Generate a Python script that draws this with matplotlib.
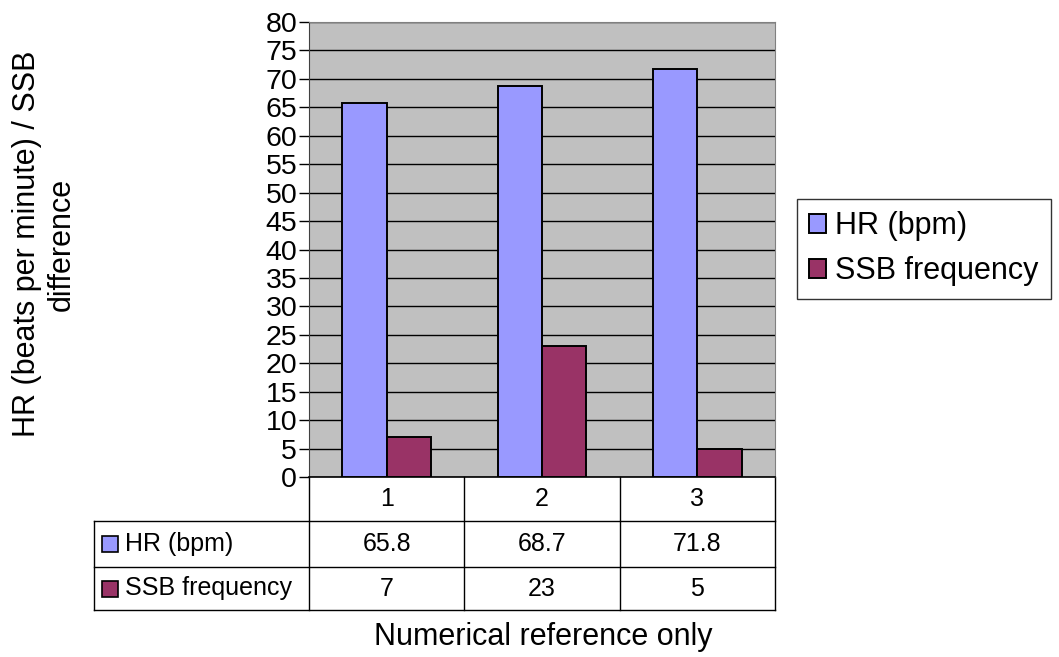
import matplotlib
matplotlib.use('Agg')
import matplotlib.pyplot as plt
import matplotlib.transforms as mtransforms
from matplotlib.patches import Rectangle
import numpy as np

categories = ['1', '2', '3']
series_names = ['HR (bpm)', 'SSB frequency']
hr_bpm = [65.8, 68.7, 71.8]
ssb_freq = [7, 23, 5]
y_ticks = list(range(0, 81, 5))
colors = ['#9999FF', '#993366']

plt.rcParams['font.family'] = ['Liberation Sans', 'DejaVu Sans']

W, H = 1059, 657
fig = plt.figure(figsize=(W / 100, H / 100), dpi=100)

def fx(px):
    return px / W

def fy(py):
    return 1 - py / H

# plot area in pixels
left, right, top, bottom = 309, 775, 22, 477
ax = fig.add_axes([fx(left), fy(bottom), fx(right - left), (bottom - top) / H])
ax.set_facecolor('#C0C0C0')

x = np.arange(len(categories))
w = 1 / 3.5
series = [hr_bpm, ssb_freq]
bars = []
for i, vals in enumerate(series):
    b = ax.bar(x + (i - 0.5) * w, vals, w, color=colors[i], edgecolor='black',
               linewidth=1.4, zorder=3, label=series_names[i])
    bars.append(b)

ax.set_xlim(-0.5, len(categories) - 0.5)
ax.set_ylim(0, 80)
ax.set_yticks(y_ticks)
ax.yaxis.grid(True, color='black', linewidth=1)
ax.set_axisbelow(True)
ax.set_xticks([])
ax.tick_params(axis='y', labelsize=20.5, length=7, width=1, pad=1.5)
for s in ['top', 'right']:
    ax.spines[s].set_color('#808080')
ax.spines['left'].set_color('#404040')
ax.spines['bottom'].set_color('black')
ax.spines['bottom'].set_linewidth(1.2)

# data table under the plot
trans = mtransforms.blended_transform_factory(ax.transData, fig.transFigure)
row_y = [477, 521, 567, 610]
tleft = 94
edges = np.arange(len(categories) + 1) - 0.5
for e in edges:
    ax.plot([e, e], [fy(row_y[0]), fy(row_y[-1])], color='black', lw=1,
            transform=trans, clip_on=False)
for yy in row_y[1:]:
    fig.add_artist(plt.Line2D([fx(tleft), fx(right)], [fy(yy), fy(yy)],
                              color='black', lw=1))
fig.add_artist(plt.Line2D([fx(tleft), fx(tleft)], [fy(row_y[1]), fy(row_y[-1])],
                          color='black', lw=1))

for i, c in enumerate(categories):
    ax.text(i, fy((row_y[0] + row_y[1]) / 2), c, transform=trans,
            ha='center', va='center', fontsize=18)
for r, vals in enumerate(series):
    yc = (row_y[r + 1] + row_y[r + 2]) / 2
    for i, v in enumerate(vals):
        ax.text(i, fy(yc), f'{v:g}', transform=trans, ha='center',
                va='center', fontsize=18)
    fig.add_artist(Rectangle((fx(102), fy(yc + 8)), fx(16), 16 / H,
                             facecolor=colors[r], edgecolor='black', lw=1.2))
    fig.text(fx(125), fy(yc), series_names[r], ha='left', va='center',
             fontsize=18)

# legend
leg = fig.legend(handles=bars, labels=series_names, loc='upper left',
                 bbox_to_anchor=(fx(797), fy(199)), fontsize=22,
                 frameon=True, fancybox=False, edgecolor='black',
                 handlelength=0.55, handleheight=0.55, handletextpad=0.3,
                 borderpad=0.4, labelspacing=0.5, borderaxespad=0)
leg.get_frame().set_linewidth(1)

fig.text(fx(44), fy(244), 'HR (beats per minute) / SSB\ndifference',
         rotation=90, ha='center', va='center', fontsize=22,
         multialignment='center', linespacing=1.2)
fig.text(fx(543), fy(637), 'Numerical reference only', ha='center',
         va='center', fontsize=22)

fig.savefig('out.png', dpi=100, facecolor='white')
